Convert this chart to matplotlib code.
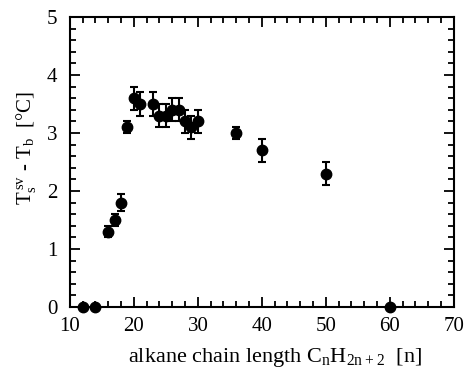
from matplotlib import pyplot as plt
from matplotlib.ticker import MultipleLocator

# chain length n and onset temperature difference
chainLength = [12, 14, 16, 17, 18, 19, 20, 21, 23, 24, 25, 26, 27, 28, 29, 30, 36, 40, 50, 60]
tempDiff = [0, 0, 1.3, 1.5, 1.8, 3.1, 3.6, 3.5, 3.5, 3.3, 3.3, 3.4, 3.4, 3.2, 3.1, 3.2, 3.0, 2.7, 2.3, 0]
tempErr = [0, 0, 0.1, 0.1, 0.15, 0.1, 0.2, 0.2, 0.2, 0.2, 0.2, 0.2, 0.2, 0.2, 0.2, 0.2, 0.1, 0.2, 0.2, 0]

plt.rcParams['font.family'] = ['Liberation Serif', 'DejaVu Serif']
plt.rcParams['mathtext.fontset'] = 'custom'
plt.rcParams['mathtext.rm'] = 'Liberation Serif'

fig = plt.figure(figsize=(4.66, 3.70), dpi=100)
ax = fig.add_axes([0.150, 0.170, 0.824, 0.784])

ax.errorbar(chainLength, tempDiff, yerr=tempErr, fmt='o', color='black',
            markersize=7.5, capsize=3, elinewidth=1.5, capthick=1.5, clip_on=False, zorder=3)

ax.set_xlim(10, 70)
ax.set_ylim(0, 5)
ax.xaxis.set_major_locator(MultipleLocator(10))
ax.xaxis.set_minor_locator(MultipleLocator(2))
ax.yaxis.set_major_locator(MultipleLocator(1))
ax.yaxis.set_minor_locator(MultipleLocator(0.2))
ax.tick_params(which='both', direction='in', top=True, right=True, labelsize=15, width=1.3)
ax.tick_params(axis='x', which='major', pad=7)
ax.tick_params(axis='y', which='major', pad=9)
ax.tick_params(which='major', length=7)
ax.tick_params(which='minor', length=4)
for s in ax.spines.values():
    s.set_linewidth(1.5)

ax.set_xlabel(r'alkane chain length $\mathrm{C_nH_{2n+2}}$  [n]', fontsize=16)
ax.set_ylabel(r'$\mathrm{T_s^{\,sv}}$ - $\mathrm{T_b}$  [°C]', fontsize=15)
ax.xaxis.set_label_coords(0.534, -0.135)
ax.yaxis.set_label_coords(-0.083, 0.55)

fig.savefig('out.png', dpi=100)
